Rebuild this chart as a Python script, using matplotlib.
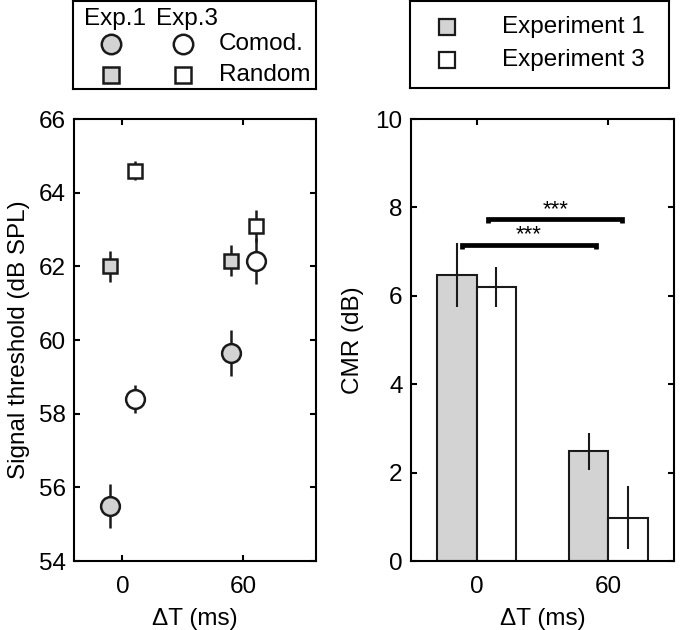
import matplotlib
matplotlib.use("Agg")
import matplotlib.pyplot as plt

plt.rcParams['font.family'] = ['Liberation Sans', 'DejaVu Sans']
FS = 17.5
plt.rcParams['font.size'] = FS

# ---- data ----
delta_t = [0, 60]
xtick_labels = ['0', '60']
exp1_comod = [55.5, 59.65]
exp1_comod_err = [0.6, 0.62]
exp3_comod = [58.4, 62.15]
exp3_comod_err = [0.38, 0.63]
exp1_random = [62.0, 62.15]
exp1_random_err = [0.42, 0.42]
exp3_random = [64.6, 63.1]
exp3_random_err = [0.26, 0.43]

cmr_exp1 = [6.47, 2.48]
cmr_exp1_err = [0.72, 0.41]
cmr_exp3 = [6.2, 0.98]
cmr_exp3_err = [0.45, 0.71]

grey = '#d3d3d3'
W, H = 680, 630
fig = plt.figure(figsize=(6.8, 6.3), dpi=100)

def style(ax):
    for s in ax.spines.values():
        s.set_linewidth(1.5)
    ax.tick_params(direction='in', length=4, width=1.5, top=True, right=True,
                   labelsize=FS)
    ax.tick_params(axis='x', pad=11)
    ax.tick_params(axis='y', pad=6)

# ---- left axes ----
axL = fig.add_axes([74 / W, 69 / H, 242 / W, 442 / H])
style(axL)
off = 6
xl = [d - off for d in delta_t]
xr = [d + off for d in delta_t]
ekw = dict(ecolor='#1a1a1a', elinewidth=1.8, capsize=0, linestyle='none', mec='#1a1a1a', mew=1.8)
axL.errorbar(xl, exp1_random, yerr=exp1_random_err, fmt='s', ms=10.5, mfc=grey, **ekw)
axL.errorbar(xr, exp3_random, yerr=exp3_random_err, fmt='s', ms=10.5, mfc='white', **ekw)
axL.errorbar(xl, exp1_comod, yerr=exp1_comod_err, fmt='o', ms=13.5, mfc=grey, **ekw)
axL.errorbar(xr, exp3_comod, yerr=exp3_comod_err, fmt='o', ms=13.5, mfc='white', **ekw)
axL.set_xlim(-24, 96)
axL.set_ylim(54, 66)
axL.set_xticks(delta_t)
axL.set_xticklabels(xtick_labels)
axL.set_yticks(range(54, 67, 2))
axL.set_xlabel('ΔT (ms)', fontsize=FS, labelpad=7)
axL.set_ylabel('Signal threshold (dB SPL)', fontsize=FS, labelpad=6)

# ---- right axes ----
axR = fig.add_axes([411 / W, 69 / H, 263 / W, 442 / H])
style(axR)
bw = 18
axR.bar([d - bw / 2 for d in delta_t], cmr_exp1, width=bw, color=grey,
        edgecolor='#1a1a1a', linewidth=1.5, zorder=2)
axR.bar([d + bw / 2 for d in delta_t], cmr_exp3, width=bw, color='white',
        edgecolor='#1a1a1a', linewidth=1.5, zorder=2)
axR.errorbar([d - bw / 2 for d in delta_t], cmr_exp1, yerr=cmr_exp1_err, fmt='none',
             ecolor='#1a1a1a', elinewidth=1.5, capsize=0, zorder=3)
axR.errorbar([d + bw / 2 for d in delta_t], cmr_exp3, yerr=cmr_exp3_err, fmt='none',
             ecolor='#1a1a1a', elinewidth=1.5, capsize=0, zorder=3)
axR.set_xlim(-30, 90)
axR.set_ylim(0, 10)
axR.set_xticks(delta_t)
axR.set_xticklabels(xtick_labels)
axR.set_yticks(range(0, 11, 2))
axR.set_xlabel('ΔT (ms)', fontsize=FS, labelpad=7)
axR.set_ylabel('CMR (dB)', fontsize=FS, labelpad=8)

# significance brackets
def bracket(ax, x1, x2, y, dy=0.09):
    ax.plot([x1, x1, x2, x2], [y - dy, y, y, y - dy], color='black', lw=3.4,
            solid_joinstyle='miter', solid_capstyle='butt', zorder=4)
    ax.text((x1 + x2) / 2, y - 0.02, '***', ha='center', va='bottom', fontsize=16)

bracket(axR, -6.8, 54.4, 7.16)
bracket(axR, 5.3, 66.5, 7.74)

# ---- left legend box ----
lg1 = fig.add_axes([73 / W, (H - 89) / H, 243 / W, 88 / H])
lg1.set_xlim(0, 1); lg1.set_ylim(0, 1)
lg1.set_xticks([]); lg1.set_yticks([])
for s in lg1.spines.values():
    s.set_linewidth(1.5)
lg1.text(0.045, 0.80, 'Exp.1', ha='left', va='center', fontsize=FS)
lg1.text(0.342, 0.80, 'Exp.3', ha='left', va='center', fontsize=FS)
lg1.plot([0.155], [0.515], 'o', ms=14, mfc=grey, mec='#1a1a1a', mew=1.8)
lg1.plot([0.453], [0.515], 'o', ms=14, mfc='white', mec='#1a1a1a', mew=1.8)
lg1.plot([0.155], [0.155], 's', ms=11.5, mfc=grey, mec='#1a1a1a', mew=1.8)
lg1.plot([0.453], [0.155], 's', ms=11.5, mfc='white', mec='#1a1a1a', mew=1.8)
lg1.text(0.60, 0.515, 'Comod.', ha='left', va='center', fontsize=FS)
lg1.text(0.60, 0.155, 'Random', ha='left', va='center', fontsize=FS)

# ---- right legend box ----
lg2 = fig.add_axes([410 / W, (H - 88) / H, 259 / W, 87 / H])
lg2.set_xlim(0, 1); lg2.set_ylim(0, 1)
lg2.set_xticks([]); lg2.set_yticks([])
for s in lg2.spines.values():
    s.set_linewidth(1.5)
lg2.plot([0.142], [0.70], 's', ms=11.5, mfc=grey, mec='#1a1a1a', mew=1.6)
lg2.plot([0.142], [0.32], 's', ms=11.5, mfc='white', mec='#1a1a1a', mew=1.6)
lg2.text(0.354, 0.70, 'Experiment 1', ha='left', va='center', fontsize=FS)
lg2.text(0.354, 0.32, 'Experiment 3', ha='left', va='center', fontsize=FS)

fig.savefig('out.png', dpi=100)
